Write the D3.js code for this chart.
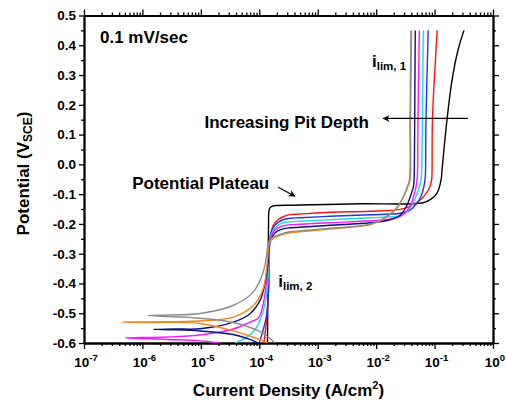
<!DOCTYPE html>
<html><head><meta charset="utf-8">
<script src="https://cdn.jsdelivr.net/npm/d3@7"></script>
<style>
body{margin:0;background:#fff}
svg{display:block}
text{font-family:"Liberation Sans",Arial,Helvetica,sans-serif;font-weight:bold;fill:#000}
</style>
</head><body>
<svg id="chart" width="506" height="402"></svg>
<script>
// ---------- data (current density A/cm², potential V_SCE) ----------
const seriesNames = ["Curve 1","Curve 2","Curve 3","Curve 4","Curve 5","Curve 6","Curve 7","Curve 8"];
const seriesColors = ["#000000","#ff1010","#2434e0","#18dcef","#ff18ff","#0c0c86","#f5851c","#8c8c8c"];

const curve1 = [[1.38e-4,-0.6],[1.40e-4,-0.45],[1.42e-4,-0.30],[1.44e-4,-0.20],[1.46e-4,-0.158],[1.52e-4,-0.146],[1.65e-4,-0.141],[1.93e-4,-0.1384],[3.36e-4,-0.1374],[5.0e-4,-0.1367],[5.3e-3,-0.1324],[0.0634,-0.129],[0.0869,-0.117],[0.110,-0.097],[0.129,-0.053],[0.134,-0.02],[0.163,0.149],[0.199,0.283],[0.252,0.384],[0.319,0.45]];
const curve2 = [[1.2e-4,-0.6],[1.33e-4,-0.524],[1.44e-4,-0.423],[1.47e-4,-0.32],[1.5e-4,-0.27],[1.58e-4,-0.232],[1.74e-4,-0.205],[2.09e-4,-0.186],[2.57e-4,-0.176],[3.36e-4,-0.169],[4.98e-4,-0.167],[1.62e-3,-0.161],[7.85e-3,-0.1576],[0.0256,-0.151],[0.0379,-0.1408],[0.0562,-0.1206],[0.078,-0.087],[0.089,-0.053],[0.0904,-0.03],[0.092,0.1485],[0.111,0.45]];
const curve3 = [[9.9e-5,-0.6],[1.16e-4,-0.558],[1.33e-4,-0.507],[1.44e-4,-0.423],[1.47e-4,-0.32],[1.5e-4,-0.27],[1.585e-4,-0.228],[1.79e-4,-0.208],[2.09e-4,-0.195],[2.55e-4,-0.186],[3.36e-4,-0.181],[4.98e-4,-0.1794],[1.62e-3,-0.1744],[7.85e-3,-0.1694],[0.0256,-0.1643],[0.0379,-0.154],[0.0494,-0.1317],[0.0586,-0.107],[0.0635,-0.087],[0.0685,-0.053],[0.0699,-0.03],[0.0713,0.1485],[0.0778,0.45]];
const curve4 = [[3.84e-5,-0.6],[6.1e-5,-0.5804],[9.04e-5,-0.5468],[1.17e-4,-0.4906],[1.34e-4,-0.4344],[1.43e-4,-0.367],[1.47e-4,-0.30],[1.5e-4,-0.27],[1.585e-4,-0.238],[1.79e-4,-0.218],[2.09e-4,-0.2047],[2.55e-4,-0.196],[3.36e-4,-0.193],[4.98e-4,-0.191],[1.62e-3,-0.186],[7.85e-3,-0.1794],[0.0256,-0.1727],[0.0324,-0.1626],[0.0411,-0.1374],[0.0481,-0.107],[0.0526,-0.087],[0.0586,-0.053],[0.0599,-0.03],[0.0619,0.1485],[0.0641,0.45]];
const curve5 = [[2.13e-5,-0.6],[9.66e-6,-0.593],[2.6e-6,-0.588],[5.13e-7,-0.583],[2.6e-6,-0.580],[9.66e-6,-0.573],[3.59e-5,-0.553],[6.93e-5,-0.530],[9.5e-5,-0.5175],[1.03e-4,-0.507],[1.17e-4,-0.468],[1.34e-4,-0.39],[1.43e-4,-0.31],[1.48e-4,-0.275],[1.55e-4,-0.248],[1.72e-4,-0.2282],[2.0e-4,-0.2148],[2.55e-4,-0.2064],[3.36e-4,-0.203],[4.98e-4,-0.2013],[1.62e-3,-0.196],[7.85e-3,-0.1896],[0.021,-0.1811],[0.0312,-0.1643],[0.0394,-0.134],[0.0453,-0.097],[0.0481,-0.0759],[0.050,-0.053],[0.051,-0.03],[0.052,0.1485],[0.0548,0.45]];
const curve6 = [[9.5e-5,-0.6],[6.93e-5,-0.588],[3.59e-5,-0.5713],[9.66e-6,-0.5595],[3.5e-6,-0.5555],[1.53e-6,-0.554],[3.5e-6,-0.5525],[9.66e-6,-0.552],[3.59e-5,-0.530],[6.93e-5,-0.5017],[1.03e-4,-0.457],[1.25e-4,-0.401],[1.41e-4,-0.329],[1.47e-4,-0.28],[1.52e-4,-0.2585],[1.72e-4,-0.2383],[2.0e-4,-0.2249],[2.55e-4,-0.2165],[3.36e-4,-0.2131],[4.98e-4,-0.2114],[1.62e-3,-0.2047],[7.85e-3,-0.1963],[0.01726,-0.186],[0.0256,-0.171],[0.0324,-0.144],[0.0387,-0.107],[0.0433,-0.0759],[0.0445,-0.053],[0.045,-0.03],[0.0457,0.1485],[0.0467,0.45]];
const curve7 = [[1.41e-4,-0.6],[9.03e-5,-0.5848],[3.59e-5,-0.5595],[9.66e-6,-0.5343],[1.35e-6,-0.531],[4.47e-7,-0.530],[1.35e-6,-0.529],[9.66e-6,-0.526],[3.59e-5,-0.513],[7.91e-5,-0.474],[1.17e-4,-0.4166],[1.34e-4,-0.346],[1.43e-4,-0.29],[1.48e-4,-0.268],[1.585e-4,-0.2551],[1.86e-4,-0.245],[2.26e-4,-0.238],[3.36e-4,-0.23],[4.98e-4,-0.2265],[1.62e-3,-0.2175],[3.56e-3,-0.2114],[7.85e-3,-0.203],[0.0131,-0.1845],[0.0225,-0.1485],[0.0292,-0.1095],[0.0351,-0.0735],[0.0379,-0.053],[0.0387,0.1485],[0.0405,0.45]];
const curve8 = [[1.86e-4,-0.6],[1.11e-4,-0.565],[3.55e-5,-0.531],[9.66e-6,-0.517],[3.85e-6,-0.512],[1.24e-6,-0.508],[2.96e-6,-0.506],[9.66e-6,-0.5007],[3.55e-5,-0.474],[7.8e-5,-0.430],[1.16e-4,-0.363],[1.33e-4,-0.306],[1.4e-4,-0.275],[1.52e-4,-0.252],[1.86e-4,-0.2417],[2.26e-4,-0.235],[3.36e-4,-0.2265],[4.98e-4,-0.2232],[1.62e-3,-0.2148],[3.56e-3,-0.2097],[7.85e-3,-0.2013],[0.0131,-0.183],[0.0218,-0.149],[0.029,-0.1105],[0.0344,-0.0735],[0.0371,-0.053],[0.0379,0.1485],[0.0394,0.45]];
const seriesData = [curve1,curve2,curve3,curve4,curve5,curve6,curve7,curve8];

// axis ticks
const xMajorExp = [-7,-6,-5,-4,-3,-2,-1,0];
const yMajor = [-0.6,-0.5,-0.4,-0.3,-0.2,-0.1,0.0,0.1,0.2,0.3,0.4,0.5];

// annotations (data coordinates)
const annoText = ["0.1 mV/sec","Increasing Pit Depth","Potential Plateau"];
const annoI = [1.88e-7, 7.5e-3, 1.48e-4];
const annoE = [0.4075, 0.1216, -0.0836];
const annoAnchor = ["start","end","end"];

// ---------- layout ----------
const L=84, R=493, T=15.5, B=343;
const svg = d3.select("#chart");
const x = d3.scaleLog().domain([1e-7,1]).range([L,R]);
const y = d3.scaleLinear().domain([-0.6,0.5]).range([B,T]);

const xMajor = xMajorExp.map(k=>Math.pow(10,k));
const xMinor = [];
xMajorExp.slice(0,-1).forEach(k=>{for(let m=2;m<=9;m++) xMinor.push(m*Math.pow(10,k));});
const yMinor = yMajor.slice(0,-1).map(v=>v+0.05);

function styleAxis(g){
  g.select(".domain").attr("stroke","#000").attr("stroke-width",1.8);
  g.selectAll(".tick line").attr("stroke","#000").attr("stroke-width",1.3);
}
// bottom
svg.append("g").attr("transform",`translate(0,${B})`)
  .call(d3.axisBottom(x).tickValues(xMajor).tickSize(6).tickSizeOuter(0).tickFormat(""))
  .call(styleAxis);
svg.append("g").attr("transform",`translate(0,${B})`)
  .call(d3.axisBottom(x).tickValues(xMinor).tickSize(3).tickSizeOuter(0).tickFormat(""))
  .call(styleAxis);
// top
svg.append("g").attr("transform",`translate(0,${T})`)
  .call(d3.axisTop(x).tickValues(xMajor).tickSize(6).tickSizeOuter(0).tickFormat(""))
  .call(styleAxis);
svg.append("g").attr("transform",`translate(0,${T})`)
  .call(d3.axisTop(x).tickValues(xMinor).tickSize(3).tickSizeOuter(0).tickFormat(""))
  .call(styleAxis);
// left
svg.append("g").attr("transform",`translate(${L},0)`)
  .call(d3.axisLeft(y).tickValues(yMajor).tickSize(5).tickSizeOuter(0).tickPadding(3).tickFormat(d=>d.toFixed(1)))
  .call(styleAxis)
  .call(g=>g.selectAll("text").attr("font-size",13.5).attr("font-family","'Liberation Sans',Arial,sans-serif").attr("font-weight","bold").attr("fill","#000"));
svg.append("g").attr("transform",`translate(${L},0)`)
  .call(d3.axisLeft(y).tickValues(yMinor).tickSize(3).tickSizeOuter(0).tickFormat(""))
  .call(styleAxis);
// right
svg.append("g").attr("transform",`translate(${R},0)`)
  .call(d3.axisRight(y).tickValues(yMajor).tickSize(6).tickSizeOuter(0).tickFormat(""))
  .call(styleAxis);
svg.append("g").attr("transform",`translate(${R},0)`)
  .call(d3.axisRight(y).tickValues(yMinor).tickSize(3).tickSizeOuter(0).tickFormat(""))
  .call(styleAxis);

// x tick labels with superscripts
const xl = svg.append("g");
xMajorExp.forEach((k,i)=>{
  const t = xl.append("text").attr("x",x(xMajor[i])+2).attr("y",B+24).attr("text-anchor","middle").attr("font-size",13.5);
  t.append("tspan").text("10");
  t.append("tspan").attr("font-size",9.5).attr("dy",-6).text(String(k));
});

// clip
svg.append("clipPath").attr("id","clip").append("rect").attr("x",L).attr("y",T).attr("width",R-L).attr("height",B-T);

const line = d3.line().x(d=>x(d[0])).y(d=>y(d[1])).curve(d3.curveCatmullRom.alpha(0.5));
const lg = svg.append("g").attr("clip-path","url(#clip)");
seriesData.forEach((s,i)=>{
  lg.append("path").datum(s).attr("d",line).attr("fill","none")
    .attr("stroke",seriesColors[i]).attr("stroke-width",1.4).attr("stroke-linejoin","round")
    .attr("data-name",seriesNames[i]);
});

// arrows
const defs = svg.append("defs");
defs.append("marker").attr("id","ah").attr("viewBox","0 0 10 10").attr("refX",9).attr("refY",5)
  .attr("markerUnits","userSpaceOnUse").attr("markerWidth",9).attr("markerHeight",7).attr("orient","auto")
  .append("path").attr("d","M0,0 L10,5 L0,10 L3,5 z").attr("fill","#000");
svg.append("line").attr("x1",x(0.373)).attr("y1",y(0.1542)).attr("x2",x(0.01324)).attr("y2",y(0.1542))
  .attr("stroke","#000").attr("stroke-width",1.3).attr("marker-end","url(#ah)");
svg.append("line").attr("x1",x(2.11e-4)).attr("y1",y(-0.077)).attr("x2",x(4.08e-4)).attr("y2",y(-0.107))
  .attr("stroke","#000").attr("stroke-width",1.3).attr("marker-end","url(#ah)");

// annotation texts
annoText.forEach((t,i)=>{
  svg.append("text").attr("x",x(annoI[i])).attr("y",y(annoE[i])).attr("text-anchor",annoAnchor[i])
    .attr("font-size",17).text(t);
});
// i_lim labels
function ilim(iv,ev,num){
  const t = svg.append("text").attr("x",x(iv)).attr("y",y(ev)).attr("font-size",17);
  t.append("tspan").text("i");
  t.append("tspan").attr("font-size",11.5).attr("dy",3).text("lim, "+num);
}
ilim(8.49e-3,0.3268,1);
ilim(2.11e-4,-0.4115,2);

// axis titles
const xt = svg.append("text").attr("x",(L+R)/2).attr("y",396).attr("text-anchor","middle").attr("font-size",17);
xt.append("tspan").text("Current Density (A/cm");
xt.append("tspan").attr("font-size",11).attr("dy",-7).text("2");
xt.append("tspan").attr("dy",7).text(")");

const yt = svg.append("text").attr("transform","translate(28.5,173.5) rotate(-90)").attr("text-anchor","middle").attr("font-size",17);
yt.append("tspan").text("Potential (V");
yt.append("tspan").attr("font-size",12).attr("dy",3).text("SCE");
yt.append("tspan").attr("dy",-3).text(")");
</script>
</body></html>
